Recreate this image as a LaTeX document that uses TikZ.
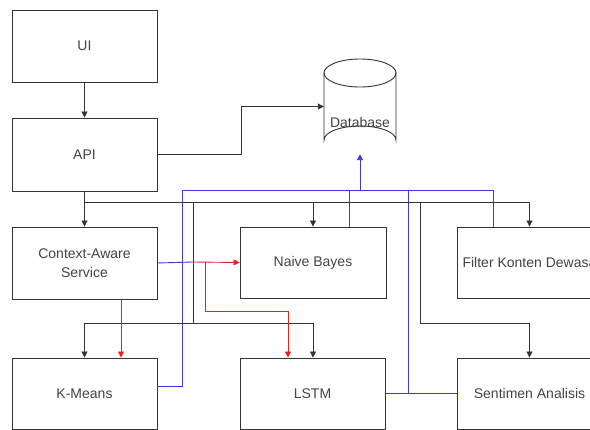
\documentclass[tikz,border=0pt]{standalone}
\usepackage{fontspec}
\setmainfont{Liberation Sans}
\usetikzlibrary{arrows.meta,calc}
\definecolor{lineblk}{HTML}{333333}
\definecolor{lineblue}{HTML}{3A3AE0}
\definecolor{linered}{HTML}{E82020}
\definecolor{txt}{HTML}{444444}
\tikzset{
  box/.style={draw=lineblk, line width=0.9pt, rectangle, minimum width=145pt, minimum height=72pt, inner sep=0pt, align=center, text=txt, font=\fontsize{14}{19}\selectfont},
  conn/.style={draw=lineblk, line width=0.9pt},
  arr/.style={conn, -{Triangle[length=6pt,width=6pt]}},
  bl/.style={draw=lineblue, line width=0.9pt},
  blarr/.style={bl, -{Triangle[length=6pt,width=6pt]}},
  rd/.style={draw=linered, line width=0.9pt},
  rdarr/.style={rd, -{Triangle[length=6pt,width=6pt]}},
  lbl/.style={text=txt, font=\fontsize{14}{19}\selectfont, inner sep=0pt},
}
\begin{document}
\begin{tikzpicture}[x=1pt,y=-1pt]
\useasboundingbox[fill=white] (0,0) rectangle (590,430);
\clip (0,0) rectangle (590,430);

% boxes
\node[box] (ui) at (84.5,46) {UI};
\node[box, minimum height=73pt] (api) at (84.5,154.5) {API};
\node[box] (ctx) at (84.5,263) {Context-Aware\\Service};
\node[box, minimum width=146pt, minimum height=71pt] (nb) at (313,262.5) {Naive Bayes};
\node[box, minimum height=71pt] (fk) at (529.5,262.5) {Filter Konten Dewasa};
\node[box, minimum height=71pt] (km) at (84.5,393.5) {K-Means};
\node[box, minimum height=71pt] (lstm) at (312.5,393.5) {LSTM};
\node[box, minimum height=71pt] (sa) at (529.5,393.5) {Sentimen Analisis};

% database cylinder
\node[minimum width=72pt, minimum height=95pt, inner sep=0pt] (db) at (360,106.5) {};
\draw[conn, fill=white] (324,73) -- (324,140) arc[start angle=180, end angle=360, x radius=36, y radius=14] -- (396,73);
\draw[conn] (360,73) ellipse[x radius=36, y radius=14];
\node[lbl] (dbl) at (360,122) {Database};

% junction coordinates
\coordinate (busK) at (0,202);
\coordinate (jA) at (193,202);
\coordinate (jB) at (193,323);
\coordinate (jC) at (420,202);
\coordinate (jD) at (420,323);
\coordinate (jE) at (84.5,323);
\coordinate (jF) at (313,323);
\coordinate (bA) at (182,190);
\coordinate (bB) at (182,386);
\coordinate (bC) at (493,190);
\coordinate (bD) at (408,190);
\coordinate (bE) at (408,394);
\coordinate (bF) at (349,190);
\coordinate (bG) at (360,190);
\coordinate (cE) at (193,262);
\coordinate (rA) at (205,262);
\coordinate (rB) at (205,311);
\coordinate (rC) at (288,311);
\coordinate (rX) at (121,0);

% blue connectors
\draw[bl] (bA) -- (bC);
\draw[bl] (bA) -- (bB) -- (km.north east |- bB);
\draw[bl] (nb.north -| bF) -- (bF);
\draw[bl] (fk.north -| bC) -- (bC);
\draw[bl] (bD) -- (bE);
\draw[bl] (lstm.east) -- (sa.west);
\draw[blarr] (bG) -- (db.south -| bG);
\draw[bl] (ctx.east) -- (cE);

% black connectors
\draw[arr] (ui) -- (api);
\draw[arr] (api.east) -- ++(84,0) |- (db.west);
\draw[arr] (api) -- (ctx);
\draw[conn] (api.south |- busK) -- (fk.north |- busK);
\draw[arr] (nb.north |- busK) -- (nb.north);
\draw[arr] (fk.north |- busK) -- (fk.north);
\draw[conn] (jA) -- (jB);
\draw[conn] (jE) -- (jF);
\draw[arr] (jE) -- (km.north);
\draw[arr] (jF) -- (jF |- lstm.north);
\draw[conn] (jC) -- (jD) -- (sa.north |- jD);
\draw[arr] (sa.north |- jD) -- (sa.north);

% red connectors
\draw[rdarr] (cE) -- (nb.west);
\draw[rdarr] (rA) -- (rB) -- (rC) -- (rC |- lstm.north);
\draw[rdarr] (ctx.south -| rX) -- (km.north -| rX);
\end{tikzpicture}
\end{document}
